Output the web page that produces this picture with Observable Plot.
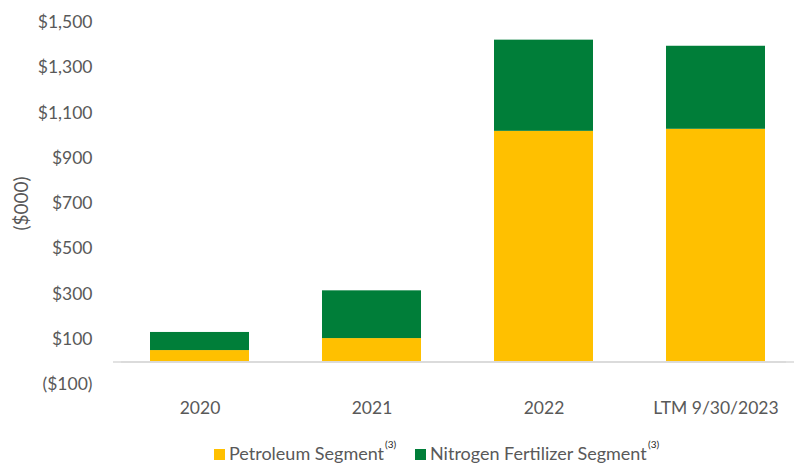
<!DOCTYPE html>
<html>
<head>
<meta charset="utf-8">
<script src="https://cdn.jsdelivr.net/npm/d3@7"></script>
<script src="https://cdn.jsdelivr.net/npm/@observablehq/plot@0.6"></script>
<style>
  html, body { margin: 0; padding: 0; background: #fff; overflow: hidden; }
  #wrap { position: relative; width: 794px; height: 466px; font-family: Lato, sans-serif; }
  .leg { position: absolute; top: 443px; font-size: 18px; color: #595959; white-space: nowrap; line-height: 20px; }
  .sw { display: inline-block; width: 11px; height: 11px; margin-right: 4px; vertical-align: 0px; }
  .sup { position: absolute; top: -9px; font-size: 10px; color: #262626; }
  svg g[aria-label="y-axis label"] text { font-size: 19px; }
</style>
</head>
<body>
<div id="wrap"></div>
<script>
const categories = ["2020", "2021", "2022", "LTM 9/30/2023"];
const petroleum = [50, 103, 1019, 1028];
const nitrogen = [80, 211, 403, 367];
const seriesNames = ["Petroleum Segment", "Nitrogen Fertilizer Segment"];
const seriesColors = ["#FFC000", "#007E39"];
const yTicks = [-100, 100, 300, 500, 700, 900, 1100, 1300, 1500];

const data = [];
[petroleum, nitrogen].forEach((vals, i) => {
  categories.forEach((c, j) => data.push({category: c, series: seriesNames[i], value: vals[j]}));
});

const fmt = d => d < 0 ? `($${d3.format(",")(-d)})` : `$${d3.format(",")(d)}`;

const chart = Plot.plot({
  width: 794,
  height: 430,
  marginLeft: 121,
  marginRight: 0,
  marginTop: 22,
  marginBottom: 46,
  style: {fontFamily: "Lato, sans-serif", fontSize: "17.5px", color: "#595959", background: "#fff"},
  x: {domain: categories, paddingInner: 0.425, paddingOuter: 0.168, label: null},
  y: {domain: [-100, 1500], label: null},
  color: {domain: seriesNames, range: seriesColors},
  marks: [
    Plot.axisY({ticks: yTicks, tickSize: 0, tickPadding: 29, tickFormat: fmt,
      label: "($000)", labelAnchor: "center", labelArrow: "none", labelOffset: 107}),
    Plot.axisX({tickSize: 0, tickPadding: 17, label: null}),
    Plot.barY(data, {x: "category", y: "value", fill: "series"}),
    Plot.ruleY([0], {stroke: "#D9D9D9", strokeWidth: 1.5}),
    Plot.ruleY([0], {stroke: "#D9D9D9", strokeWidth: 1.5, dx: -8})
  ]
});
const wrap = document.getElementById("wrap");
wrap.appendChild(chart);

const legX = [214, 415];
seriesNames.forEach((s, i) => {
  const item = document.createElement("div");
  item.className = "leg";
  item.style.left = legX[i] + "px";
  item.innerHTML = `<span class="sw" style="background:${seriesColors[i]}"></span>${s}`;
  const sup = document.createElement("span");
  sup.className = "sup";
  sup.textContent = "(3)";
  item.appendChild(sup);
  wrap.appendChild(item);
  sup.style.left = (item.offsetWidth + 1) + "px";
});
</script>
</body>
</html>
